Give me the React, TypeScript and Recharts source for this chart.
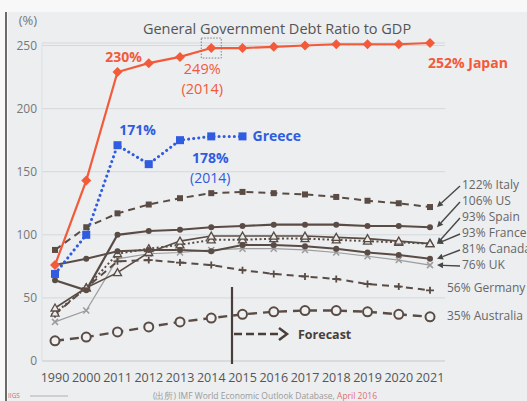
import React from "react";
import { LineChart, Line, XAxis, YAxis, CartesianGrid } from "recharts";

// Values (IMF WEO, April 2016)
const YEARS = ["1990", "2000", "2011", "2012", "2013", "2014", "2015", "2016", "2017", "2018", "2019", "2020", "2021"];
const Y_TICKS = [0, 50, 100, 150, 200, 250];

const JAPAN = [76, 143, 229, 236, 241, 248, 248, 249, 250, 251, 251, 251, 252];
const GREECE = [69, 100, 171, 156, 175, 178, 178, null, null, null, null, null, null];
const ITALY = [88, 106, 117, 124, 129, 133, 134, 133, 132, 130, 127, 125, 122];
const US = [64, 56, 100, 103, 104, 106, 107, 108, 108, 108, 107, 107, 106];
const SPAIN = [42, 58, 70, 86, 95, 99, 99, 99, 99, 98, 97, 95, 93];
const FRANCE = [38, 58, 85, 89, 92, 96, 96, 97, 97, 96, 95, 94, 93];
const CANADA = [76, 81, 87, 88, 88, 87, 92, 92, 91, 89, 86, 84, 81];
const UK = [31, 40, 81, 85, 86, 88, 89, 89, 88, 86, 83, 80, 76];
const GERMANY = [37, 58, 79, 80, 78, 76, 72, 69, 67, 65, 61, 59, 56];
const AUSTRALIA = [16, 19, 23, 27, 31, 34, 37, 39, 40, 40, 39, 37, 35];

const data = YEARS.map((year, i) => ({
  year,
  japan: JAPAN[i],
  greece: GREECE[i],
  italy: ITALY[i],
  us: US[i],
  spain: SPAIN[i],
  france: FRANCE[i],
  canada: CANADA[i],
  uk: UK[i],
  germany: GERMANY[i],
  australia: AUSTRALIA[i],
}));

const FONT = "'Open Sans', 'Noto Sans', sans-serif";
const RED = "#f25a3a";
const BLUE = "#2f5ce0";
const DARK = "#5a4c45";
const GREY_TXT = "#666";
const LAST = YEARS.length - 1;

const ptOf = (p: any) => ({
  x: p.x ?? p.viewBox?.x,
  y: p.y ?? p.viewBox?.y,
  index: p.index,
});

function makeDot(shape: string, color: string) {
  return (p: any) => {
    const { cx, cy, index } = p;
    const k = `d${index}`;
    if (cx == null || cy == null || Number.isNaN(cy) || p.value == null) return <g key={k} />;
    switch (shape) {
      case "diamond":
        return <polygon key={k} points={`${cx},${cy - 5} ${cx + 5},${cy} ${cx},${cy + 5} ${cx - 5},${cy}`} fill={color} />;
      case "bigsquare":
        return <rect key={k} x={cx - 4} y={cy - 4} width={8} height={8} fill={color} />;
      case "square":
        return <rect key={k} x={cx - 3} y={cy - 3} width={6} height={6} fill={color} />;
      case "dot":
        return <circle key={k} cx={cx} cy={cy} r={3} fill={color} />;
      case "triangle":
        return (
          <polygon key={k} points={`${cx},${cy - 4} ${cx + 4},${cy + 3} ${cx - 4},${cy + 3}`} fill="#e9ebec" stroke={color} strokeWidth={1.3} />
        );
      case "x":
        return (
          <path key={k} d={`M${cx - 3},${cy - 3}L${cx + 3},${cy + 3}M${cx + 3},${cy - 3}L${cx - 3},${cy + 3}`} stroke={color} strokeWidth={1.5} />
        );
      case "plus":
        return (
          <path key={k} d={`M${cx - 4},${cy}L${cx + 4},${cy}M${cx},${cy - 3.5}L${cx},${cy + 3.5}`} stroke={color} strokeWidth={1.8} />
        );
      case "ocircle":
        return <circle key={k} cx={cx} cy={cy} r={4.5} fill="#eef0f1" stroke={color} strokeWidth={2} />;
      default:
        return <g key={k} />;
    }
  };
}

// right-hand label positions (annotation layout, not data)
const END_LABELS: Record<string, { text: string; ty: number; tx: number; arrow: boolean }> = {
  italy: { text: "122%  Italy", ty: 184, tx: 462, arrow: true },
  us: { text: "106% US", ty: 200, tx: 462, arrow: true },
  spain: { text: "93% Spain", ty: 216, tx: 462, arrow: true },
  france: { text: "93% France", ty: 232, tx: 462, arrow: true },
  canada: { text: "81% Canada", ty: 248, tx: 462, arrow: true },
  uk: { text: "76% UK", ty: 264, tx: 462, arrow: true },
  germany: { text: "56%  Germany", ty: 287, tx: 447, arrow: false },
  australia: { text: "35% Australia", ty: 315, tx: 447, arrow: false },
};

function endLabel(key: string) {
  const cfg = END_LABELS[key];
  return (p: any) => {
    const { x, y, index } = ptOf(p);
    if (index !== LAST || x == null || y == null) return <g key={`l${index}`} />;
    let arrow = null;
    if (cfg.arrow) {
      const x1 = cfg.tx - 2;
      const y1 = cfg.ty + 2;
      const x2 = x + 7;
      const y2 = y;
      const a = Math.atan2(y2 - y1, x2 - x1);
      const h = 6;
      const w = 3;
      const bx = x2 - h * Math.cos(a);
      const by = y2 - h * Math.sin(a);
      const px = -Math.sin(a) * w;
      const py = Math.cos(a) * w;
      arrow = (
        <g>
          <line x1={x1} y1={y1} x2={bx} y2={by} stroke="#474747" strokeWidth={1.4} />
          <polygon points={`${x2},${y2} ${bx + px},${by + py} ${bx - px},${by - py}`} fill="#474747" />
        </g>
      );
    }
    return (
      <g key={`l${index}`}>
        {arrow}
        <text x={cfg.tx} y={cfg.ty + 4.5} fontSize={12} fill={GREY_TXT} fontFamily={FONT}>
          {cfg.text}
        </text>
      </g>
    );
  };
}

const japanLabel = (p: any) => {
  const { x, y, index } = ptOf(p);
  if (x == null || y == null) return <g key={`j${index}`} />;
  if (index === 2)
    return (
      <text key="j2" x={x + 6} y={y - 10} textAnchor="middle" fontSize={14} fontWeight="bold" fill={RED} fontFamily={FONT}>
        230%
      </text>
    );
  if (index === 5)
    return (
      <g key="j5">
        <rect x={x - 10} y={y - 10} width={20} height={20} fill="none" stroke="#7a7f8a" strokeWidth={1} strokeDasharray="1.5 1.5" />
        <text x={x - 9} y={y + 26} textAnchor="middle" fontSize={14.5} fill={RED} fontFamily={FONT}>
          249%
        </text>
        <text x={x - 9} y={y + 46} textAnchor="middle" fontSize={14.5} fill={RED} fontFamily={FONT}>
          (2014)
        </text>
      </g>
    );
  if (index === LAST)
    return (
      <text key="jl" x={x - 2} y={y + 25} fontSize={14} fontWeight="bold" fill={RED} fontFamily={FONT}>
        252% Japan
      </text>
    );
  return <g key={`j${index}`} />;
};

const greeceLabel = (p: any) => {
  const { x, y, index } = ptOf(p);
  if (x == null || y == null) return <g key={`g${index}`} />;
  if (index === 2)
    return (
      <text key="g2" x={x + 20} y={y - 10} textAnchor="middle" fontSize={14} fontWeight="bold" fill={BLUE} fontFamily={FONT}>
        171%
      </text>
    );
  if (index === 5)
    return (
      <g key="g5">
        <text x={x - 1} y={y + 27} textAnchor="middle" fontSize={14} fontWeight="bold" fill={BLUE} fontFamily={FONT}>
          178%
        </text>
        <text x={x - 1} y={y + 47} textAnchor="middle" fontSize={14} fill={BLUE} fontFamily={FONT}>
          (2014)
        </text>
      </g>
    );
  if (index === 6)
    return (
      <text key="g6" x={x + 10} y={y + 5} fontSize={14} fontWeight="bold" fill={BLUE} fontFamily={FONT}>
        Greece
      </text>
    );
  return <g key={`g${index}`} />;
};

const SERIES = [
  { key: "uk", color: "#9c9c9c", width: 1.2, dash: undefined, shape: "x" },
  { key: "germany", color: DARK, width: 2, dash: "7 5", shape: "plus" },
  { key: "australia", color: DARK, width: 2.4, dash: "9 6", shape: "ocircle" },
  { key: "france", color: DARK, width: 2, dash: "2 2.5", shape: "triangle" },
  { key: "spain", color: DARK, width: 1.6, dash: undefined, shape: "triangle" },
  { key: "canada", color: DARK, width: 2, dash: undefined, shape: "dot" },
  { key: "us", color: DARK, width: 2.2, dash: undefined, shape: "dot" },
  { key: "italy", color: DARK, width: 2, dash: "7 5", shape: "square" },
];

export default function App() {
  return (
    <div style={{ position: "fixed", left: 0, top: 0, width: 527, height: 401, background: "#f8f8f8", overflow: "hidden" }}>
      <div style={{ position: "absolute", left: 8, top: 12, right: 0, bottom: 0, background: "#eceef0" }} />
      <div style={{ position: "absolute", left: 5, top: 12, width: 2, bottom: 0, background: "#6b6b6b" }} />
      <div style={{ position: "absolute", left: 0, top: 0 }}>
        <LineChart width={527} height={401} data={data} margin={{ top: 43, right: 82, left: 8, bottom: 10 }}>
          <CartesianGrid vertical={false} stroke="#d5d9db" strokeWidth={1} />
          <XAxis
            dataKey="year"
            padding={{ left: 13, right: 15 }}
            tick={{ fontSize: 12.5, fill: "#555", fontFamily: FONT }}
            tickLine={false}
            tickMargin={6}
            axisLine={{ stroke: "#cfd3d5" }}
            interval={0}
          />
          <YAxis
            domain={[0, 250]}
            ticks={Y_TICKS}
            width={34}
            tick={{ fontSize: 12, fill: "#777", fontFamily: FONT }}
            tickLine={false}
            tickSize={3}
            tickMargin={2}
            axisLine={{ stroke: "#dde1e3" }}
          />
          {SERIES.map((s) => (
            <Line
              key={s.key}
              dataKey={s.key}
              stroke={s.color}
              strokeWidth={s.width}
              strokeDasharray={s.dash}
              dot={makeDot(s.shape, s.color)}
              activeDot={false}
              label={endLabel(s.key)}
              isAnimationActive={false}
            />
          ))}
          <Line
            dataKey="greece"
            stroke={BLUE}
            strokeWidth={3}
            strokeDasharray="0.1 5"
            strokeLinecap="round"
            dot={makeDot("bigsquare", BLUE)}
            activeDot={false}
            label={greeceLabel}
            isAnimationActive={false}
          />
          <Line
            dataKey="japan"
            stroke={RED}
            strokeWidth={2.2}
            dot={makeDot("diamond", RED)}
            activeDot={false}
            label={japanLabel}
            isAnimationActive={false}
          />
        </LineChart>
      </div>
      <svg width={527} height={401} style={{ position: "absolute", left: 0, top: 0, pointerEvents: "none" }}>
        <text x={28} y={25} textAnchor="middle" fontSize={13} fill="#777" fontFamily={FONT}>
          (%)
        </text>
        <text x={277} y={34} textAnchor="middle" fontSize={14.5} fill="#555" fontFamily={FONT}>
          General Government Debt Ratio to GDP
        </text>
        <line x1={232} y1={287} x2={232} y2={364} stroke="#4a3e38" strokeWidth={2.2} />
        <line x1={234} y1={334} x2={280} y2={334} stroke="#4a3e38" strokeWidth={2.5} strokeDasharray="8 4" />
        <polyline points="279,328 287,334 279,340" fill="none" stroke="#4a3e38" strokeWidth={2.5} />
        <text x={298} y={339} fontSize={12.5} fontWeight="bold" fill="#4a3e38" fontFamily={FONT}>
          Forecast
        </text>
        <text x={8} y={398} fontSize={6.5} fill="#c07070" fontFamily={FONT}>
          IIGS
        </text>
        <line x1={30} y1={396} x2={68} y2={396} stroke="#b0b0b0" strokeWidth={1} />
        <text x={265} y={399} textAnchor="middle" fontSize={8.5} fill="#9a9a9a" fontFamily={FONT}>
          (出所) IMF World Economic Outlook Database,{" "}
          <tspan fill="#e07070">April 2016</tspan>
        </text>
      </svg>
    </div>
  );
}
